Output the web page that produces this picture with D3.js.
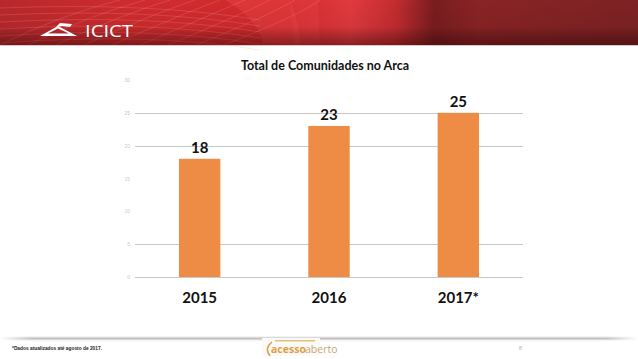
<!DOCTYPE html>
<html><head><meta charset="utf-8">
<script src="https://cdn.jsdelivr.net/npm/d3@7"></script>
<style>html,body{margin:0;padding:0;background:#fff;}svg{display:block;}</style>
</head><body>
<script>
const categories = ["2015", "2016", "2017*"];
const values = [18, 23, 25];
const yTicks = [0, 5, 10, 15, 20, 25, 30];
const gridValues = [0, 5, 20, 25];
const title = "Total de Comunidades no Arca";
const footnote = "*Dados atualizados até agosto de 2017.";
const pageNumber = "8";

const W = 638, H = 359;
const svg = d3.select("body").append("svg").attr("width", W).attr("height", H);
const defs = svg.append("defs");

// Header banner
const bg = defs.append("linearGradient").attr("id", "ban").attr("x1", 0).attr("x2", 1).attr("y1", 0).attr("y2", 0);
[[0, "#b8282c"], [0.2, "#cf2b2e"], [0.45, "#d42a2d"], [0.55, "#e03a3e"], [0.62, "#c42c30"], [0.68, "#7a1d1f"], [0.75, "#8a2325"], [1, "#7e2224"]]
  .forEach(([o, c]) => bg.append("stop").attr("offset", o).attr("stop-color", c));
const vg = defs.append("linearGradient").attr("id", "banv").attr("x1", 0).attr("x2", 0).attr("y1", 0).attr("y2", 1);
[[0, "rgba(0,0,0,0)"], [0.6, "rgba(0,0,0,0.05)"], [1, "rgba(40,0,0,0.45)"]]
  .forEach(([o, c]) => vg.append("stop").attr("offset", o).attr("stop-color", c));
svg.append("rect").attr("x", 0).attr("y", 0).attr("width", W).attr("height", 45).attr("fill", "url(#ban)");
svg.append("path").attr("d", "M225,0 C250,15 262,30 262,45 L300,45 C300,28 295,12 290,0 Z").attr("fill", "rgba(255,90,90,0.25)");
svg.append("path").attr("d", "M290,0 L318,0 L320,45 L295,45 Z").attr("fill", "rgba(235,70,75,0.35)");
const gl = svg.append("g").attr("stroke", "rgba(255,170,170,0.35)").attr("stroke-width", 0.6).attr("fill", "none");
for (let i = 0; i < 9; i++) {
  gl.append("path").attr("d", `M${i * 28},45 Q${60 + i * 30},15 ${120 + i * 25},0`);
}
for (let i = 0; i < 6; i++) {
  gl.append("path").attr("d", `M0,${8 + i * 7} Q150,${2 + i * 6} 260,${20 + i * 6}`);
}
svg.append("rect").attr("x", 0).attr("y", 0).attr("width", W).attr("height", 45).attr("fill", "url(#banv)");
svg.append("rect").attr("x", 0).attr("y", 45).attr("width", W).attr("height", 1).attr("fill", "#d9c9c9");
// logo
const logo = svg.append("g");
logo.append("path").attr("d", "M40,36 L58,26 L77,36 Z M48,33.5 L58,28.5 L69,33.5 Z").attr("fill", "#fff").attr("fill-rule", "evenodd");
logo.append("path").attr("d", "M56,27 L60,23 L72,24 L70,27 L62,26 Z").attr("fill", "#fff");
logo.append("text").attr("x", 85).attr("y", 37).attr("fill", "#fff").attr("font-family", "Open Sans, sans-serif")
  .attr("font-size", 17).attr("textLength", 48).attr("lengthAdjust", "spacingAndGlyphs").text("ICICT");

// Chart
const x = d3.scaleBand().domain(categories).range([135, 523]).paddingInner(0.68).paddingOuter(0.34);
const y = d3.scaleLinear().domain([0, 30]).range([277, 80]);

svg.append("text").attr("x", 325).attr("y", 70).attr("text-anchor", "middle")
  .attr("font-family", "Lato, sans-serif").attr("font-weight", 700).attr("font-size", 12.5).attr("fill", "#111").text(title);

svg.append("g").selectAll("line").data(gridValues).join("line")
  .attr("x1", 135).attr("x2", 523).attr("y1", d => Math.round(y(d)) + 0.5).attr("y2", d => Math.round(y(d)) + 0.5)
  .attr("stroke", "#c8c8c8").attr("stroke-width", 1);

const yAxis = svg.append("g").attr("transform", "translate(130,0)")
  .call(d3.axisLeft(y).tickValues(yTicks).tickSize(0).tickPadding(0));
yAxis.select(".domain").remove();
yAxis.selectAll("text").attr("font-family", "Liberation Sans, sans-serif").attr("font-size", 5).attr("fill", "#c8c8c8");

svg.append("g").selectAll("rect").data(values).join("rect")
  .attr("x", (d, i) => x(categories[i])).attr("width", x.bandwidth())
  .attr("y", d => y(d)).attr("height", d => y(0) - y(d)).attr("fill", "#ee8c45");

svg.append("g").selectAll("text").data(values).join("text")
  .attr("x", (d, i) => x(categories[i]) + x.bandwidth() / 2).attr("y", d => y(d) - 6)
  .attr("text-anchor", "middle").attr("font-family", "Lato, sans-serif").attr("font-weight", 700)
  .attr("font-size", 15).attr("fill", "#111").text(d => d);

const xAxis = svg.append("g").attr("transform", "translate(0,277)")
  .call(d3.axisBottom(x).tickSize(0).tickPadding(15));
xAxis.select(".domain").remove();
xAxis.selectAll("text").attr("font-family", "Lato, sans-serif").attr("font-weight", 700)
  .attr("font-size", 15).attr("fill", "#111");

// Footer
const sg = defs.append("linearGradient").attr("id", "sh").attr("x1", 0).attr("x2", 0).attr("y1", 0).attr("y2", 1);
[[0, "rgba(150,150,150,0)"], [0.5, "rgba(150,150,150,0.6)"], [1, "rgba(150,150,150,0)"]]
  .forEach(([o, c]) => sg.append("stop").attr("offset", o).attr("stop-color", c));
const hg = defs.append("linearGradient").attr("id", "shh").attr("x1", 0).attr("x2", 1);
[[0, "rgba(255,255,255,1)"], [0.05, "rgba(255,255,255,0)"], [0.95, "rgba(255,255,255,0)"], [1, "rgba(255,255,255,1)"]]
  .forEach(([o, c]) => hg.append("stop").attr("offset", o).attr("stop-color", c));
svg.append("rect").attr("x", 0).attr("y", 336).attr("width", W).attr("height", 5).attr("fill", "url(#sh)");
svg.append("rect").attr("x", 0).attr("y", 335).attr("width", W).attr("height", 7).attr("fill", "url(#shh)");

svg.append("text").attr("x", 12).attr("y", 350).attr("font-family", "Liberation Sans Narrow, Liberation Sans, sans-serif")
  .attr("font-weight", 700).attr("font-size", 5.5).attr("textLength", 90).attr("lengthAdjust", "spacingAndGlyphs")
  .attr("fill", "#222").text(footnote);
svg.append("text").attr("x", 519).attr("y", 350).attr("font-family", "Liberation Sans, sans-serif")
  .attr("font-size", 5).attr("fill", "#aaa").text(pageNumber);
// acessoaberto logo
svg.append("rect").attr("x", 262).attr("y", 338).attr("width", 58).attr("height", 18).attr("fill", "#fafafa");
svg.append("text").attr("x", 271).attr("y", 353).attr("font-family", "Open Sans, sans-serif").attr("font-weight", 700)
  .attr("font-size", 10.5).attr("fill", "#e0a040").text("acesso");
svg.append("text").attr("x", 305).attr("y", 353).attr("font-family", "Open Sans, sans-serif")
  .attr("font-size", 10.5).attr("fill", "#c9a76a").text("aberto");
svg.append("path").attr("d", "M272,342 Q264,348 270,356").attr("stroke", "#e0a040").attr("stroke-width", 1.5).attr("fill", "none");
svg.append("rect").attr("x", 275).attr("y", 340).attr("width", 40).attr("height", 1.5).attr("fill", "#e8c070");
</script>
</body></html>
